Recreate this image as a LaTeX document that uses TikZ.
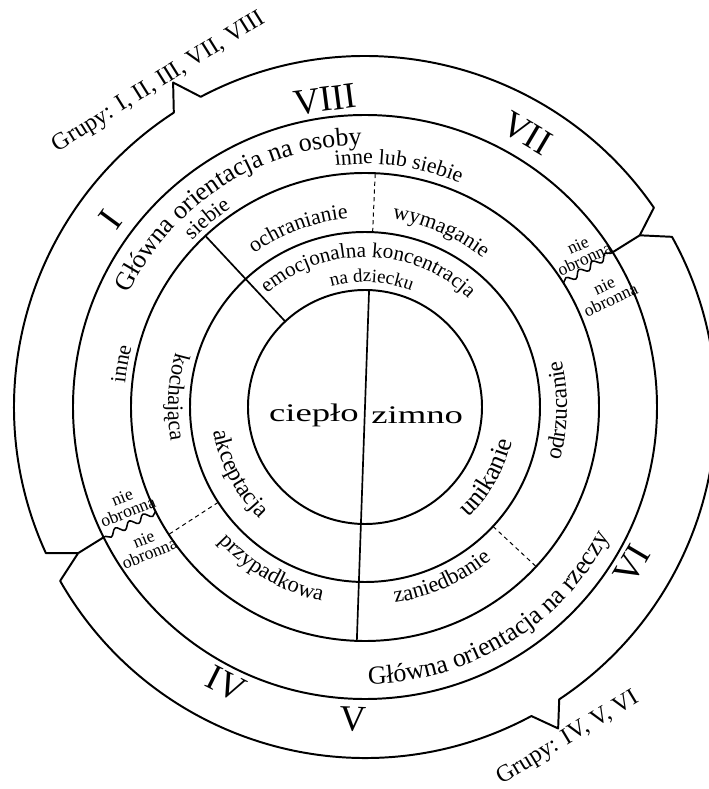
\documentclass[tikz,border=0pt]{standalone}
\usepackage{fontspec}
\setmainfont{Liberation Serif}
\usetikzlibrary{decorations.text,decorations.pathmorphing}
\newcommand{\fsz}[1]{\fontsize{#1}{#1}\selectfont}

\begin{document}
\begin{tikzpicture}[x=0.025cm,y=0.025cm,line join=round,
    ring/.style={line width=1.4pt},
    divide/.style={line width=1.2pt},
    dashdiv/.style={line width=0.7pt,dash pattern=on 3pt off 2.5pt},
    wave/.style={line width=1.1pt,decorate,decoration={snake,segment length=11pt,amplitude=2.3pt}},
    curved/.style={decorate,decoration={text along path,text align=center,text={#1}}},
    numeral/.style={font=\fsz{26},inner sep=0pt},
    defence/.style={font=\fontsize{12.5}{11}\selectfont,align=center,inner sep=0pt},
    groups/.style={font=\fsz{17},inner sep=0pt}]

    \useasboundingbox (-365,-382) rectangle (344,407);

    % rings
    \draw[ring] (0,0) circle (117);
    \draw[ring] (0,0) circle (175);
    \draw[ring] (0,0) circle (234);
    \draw[ring] (0,0) circle (292);

    % outer band: two parts meeting in two joints
    \coordinate (jr) at (32:324);
    \coordinate (jl) at (207:322);
    \draw[ring] (jr) -- (34.6:351) arc[start angle=34.6,end angle=117.9,radius=351]
        -- (120.6:377) -- (123:351) arc[start angle=123,end angle=204.6,radius=351] -- (jl);
    \draw[ring] (jl) -- (209.7:351) arc[start angle=209.7,end angle=298.3,radius=351]
        -- (301:375) -- (303.6:351) arc[start angle=303.6,end angle=389,radius=351] -- (jr);
    \draw[ring] (jr) -- (32:292);
    \draw[ring] (jl) -- (206.5:292);

    % dividers
    \draw[divide] (88:117) -- (268:234);
    \draw[divide] (133:117) -- (133:234);
    \draw[dashdiv] (87.5:175) -- (87.5:234);
    \draw[dashdiv] (213:175) -- (213:234);
    \draw[dashdiv] (317:175) -- (317:234);
    \draw[wave] (32:234) -- (32:292);
    \draw[wave] (206.5:234) -- (206.5:292);

    % centre
    \node[anchor=base east,font=\fsz{18},inner sep=0pt] (cieplo) at (-6,-15) {\scalebox{1.45}[1]{ciepło}};
    \node[anchor=base west,font=\fsz{18},inner sep=0pt] (zimno) at (6,-17) {\scalebox{1.45}[1]{zimno}};

    % ring 117-175
    \path[curved={|\fsz{15}|emocjonalna koncentracja}] (138.5:150) arc[start angle=138.5,end angle=38.5,radius=150];
    \path[curved={|\fsz{13.5}|na dziecku}] (127:125) arc[start angle=127,end angle=47,radius=125];
    \path[curved={|\fsz{17}|akceptacja}] (168:153) arc[start angle=168,end angle=248,radius=153];
    \path[curved={|\fsz{18.5}|unikanie}] (290:151) arc[start angle=290,end angle=370,radius=151];

    % ring 175-234
    \path[curved={|\fsz{15.5}|ochranianie}] (140.5:189) arc[start angle=140.5,end angle=80.5,radius=189];
    \path[curved={|\fsz{15.5}|wymaganie}] (96.6:190) arc[start angle=96.6,end angle=36.6,radius=190];
    \path[curved={|\fsz{16}|kochająca}] (147:197) arc[start angle=147,end angle=207,radius=197];
    \path[curved={|\fsz{16.5}|odrzucanie}] (329:202) arc[start angle=329,end angle=389,radius=202];
    \path[curved={|\fsz{16}|przypadkowa}] (210:199) arc[start angle=210,end angle=270,radius=199];
    \path[curved={|\fsz{16}|zaniedbanie}] (264.2:198) arc[start angle=264.2,end angle=324.2,radius=198];

    % ring 234-292
    \path[curved={|\fsz{18.5}|Główna orientacja na osoby}] (172.5:262) arc[start angle=172.5,end angle=72.5,radius=262];
    \path[curved={|\fsz{18.5}|Główna orientacja na rzeczy}] (251.4:277) arc[start angle=251.4,end angle=351.4,radius=277];
    \path[curved={|\fsz{15.5}|inne lub siebie}] (112:243) arc[start angle=112,end angle=52,radius=243];
    \path[curved={|\fsz{15.5}|siebie}] (150:240) arc[start angle=150,end angle=110,radius=240];
    \path[curved={|\fsz{15.5}|inne}] (190:241) arc[start angle=190,end angle=150,radius=241];
    \node[defence,rotate=25] (nieA) at (35.6:266) {nie\\obronna};
    \node[defence,rotate=25] (nieB) at (25.2:268) {nie\\obronna};
    \node[defence,rotate=22] (nieC) at (202.1:259) {nie\\obronna};
    \node[defence,rotate=22] (nieD) at (212.5:259) {nie\\obronna};

    % outer band
    \node[numeral,rotate=7.4] (viii) at (97.4:310) {VIII};
    \node[numeral,rotate=-30.6] (vii) at (59.4:318) {VII};
    \node[numeral,rotate=53.7] (i) at (143.7:316) {I};
    \node[numeral,rotate=-26.6] (iv) at (243.4:310) {IV};
    \node[numeral,rotate=-2.2] (v) at (267.8:313) {V};
    \node[numeral,rotate=59.5] (vi) at (329.5:310) {VI};

    \node[groups,rotate=32] (grupyA) at (-206,324.5) {Grupy: I, II, III, VII, VIII};
    \node[groups,rotate=31] (grupyB) at (203,-331) {Grupy: IV, V, VI};
\end{tikzpicture}
\end{document}
